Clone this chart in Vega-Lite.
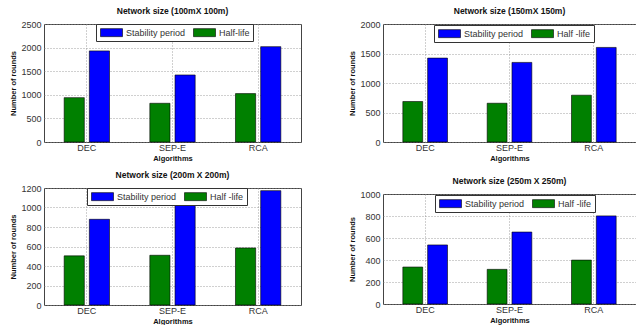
{
  "$schema": "https://vega.github.io/schema/vega-lite/v6.json",
  "padding": {"left": 9, "top": 6, "right": 0, "bottom": 0},
  "background": "white",
  "config": {
    "font": "Liberation Sans",
    "view": {"stroke": "#444", "strokeWidth": 1},
    "title": {"font": "Liberation Sans", "fontSize": 8.5, "fontWeight": "bold", "color": "#111", "offset": 5},
    "axis": {
      "labelFont": "Liberation Sans", "labelFontSize": 9, "labelColor": "#333",
      "titleFont": "Liberation Sans", "titleFontSize": 7.5, "titleFontWeight": "bold", "titleColor": "#111",
      "grid": true, "gridColor": "#888", "gridDash": [1, 2], "gridWidth": 0.8,
      "domain": false, "ticks": false, "tickSize": 0, "labelPadding": 3, "titlePadding": 3
    },
    "axisX": {"labelPadding": 1, "titlePadding": 2},
    "legend": {
      "orient": "none", "direction": "horizontal", "title": null,
      "symbolType": "M-2.2,-0.8H2.2V0.8H-2.2Z", "symbolSize": 100,
      "symbolStrokeColor": "#000", "symbolStrokeWidth": 0.5, "symbolOpacity": 1,
      "labelFont": "Liberation Sans", "labelFontSize": 9, "labelColor": "#333",
      "strokeColor": "#333", "fillColor": "#fff", "padding": 3,
      "symbolOffset": 7, "labelOffset": 9, "columnPadding": 6
    },
    "bar": {"stroke": "#000", "strokeWidth": 0.6}
  },
  "resolve": {"scale": {"x": "independent", "y": "independent", "color": "independent", "xOffset": "independent"}, "legend": {"color": "independent"}},
  "spacing": 46,
  "hconcat": [
    {
      "resolve": {"scale": {"x": "independent", "y": "independent", "color": "independent", "xOffset": "independent"}, "legend": {"color": "independent"}},
      "spacing": 8,
      "vconcat": [
        {
          "width": 257, "height": 118,
          "title": "Network size (100mX 100m)",
          "data": {"values": [
            {"algorithm": "DEC", "series": "Half-life", "rounds": 940},
            {"algorithm": "DEC", "series": "Stability period", "rounds": 1930},
            {"algorithm": "SEP-E", "series": "Half-life", "rounds": 820},
            {"algorithm": "SEP-E", "series": "Stability period", "rounds": 1420},
            {"algorithm": "RCA", "series": "Half-life", "rounds": 1025},
            {"algorithm": "RCA", "series": "Stability period", "rounds": 2020}
          ]},
          "mark": "bar",
          "encoding": {
            "x": {"field": "algorithm", "type": "nominal", "sort": ["DEC", "SEP-E", "RCA"], "scale": {"paddingInner": 0, "paddingOuter": 0}, "axis": {"title": "Algorithms", "labelAngle": 0, "bandPosition": 0.5}},
            "xOffset": {"field": "series", "sort": ["Half-life", "Stability period"], "scale": {"paddingInner": 0.2, "paddingOuter": 0.8}},
            "y": {"field": "rounds", "type": "quantitative", "scale": {"domain": [0, 2500], "nice": false}, "axis": {"values": [0, 500, 1000, 1500, 2000, 2500], "format": "d", "title": "Number of rounds"}},
            "color": {"field": "series", "type": "nominal", "scale": {"domain": ["Stability period", "Half-life"], "range": ["#0000ff", "#008000"]}, "legend": {"legendX": 52, "legendY": 0}}
          }
        },
        {
          "width": 257, "height": 117,
          "title": "Network size (200m X 200m)",
          "data": {"values": [
            {"algorithm": "DEC", "series": "Half-life", "rounds": 504},
            {"algorithm": "DEC", "series": "Stability period", "rounds": 879},
            {"algorithm": "SEP-E", "series": "Half-life", "rounds": 510},
            {"algorithm": "SEP-E", "series": "Stability period", "rounds": 1027},
            {"algorithm": "RCA", "series": "Half-life", "rounds": 585},
            {"algorithm": "RCA", "series": "Stability period", "rounds": 1173}
          ]},
          "mark": "bar",
          "encoding": {
            "x": {"field": "algorithm", "type": "nominal", "sort": ["DEC", "SEP-E", "RCA"], "scale": {"paddingInner": 0, "paddingOuter": 0}, "axis": {"title": "Algorithms", "labelAngle": 0, "bandPosition": 0.5}},
            "xOffset": {"field": "series", "sort": ["Half-life", "Stability period"], "scale": {"paddingInner": 0.2, "paddingOuter": 0.8}},
            "y": {"field": "rounds", "type": "quantitative", "scale": {"domain": [0, 1200], "nice": false}, "axis": {"values": [0, 200, 400, 600, 800, 1000, 1200], "format": "d", "title": "Number of rounds"}},
            "color": {"field": "series", "type": "nominal", "scale": {"domain": ["Stability period", "Half-life"], "range": ["#0000ff", "#008000"]}, "legend": {"legendX": 43, "legendY": 0, "labelExpr": "datum.label == 'Half-life' ? 'Half -life' : datum.label"}}
          }
        }
      ]
    },
    {
      "resolve": {"scale": {"x": "independent", "y": "independent", "color": "independent", "xOffset": "independent"}, "legend": {"color": "independent"}},
      "spacing": 14,
      "vconcat": [
        {
          "width": 253, "height": 118,
          "title": "Network size (150mX 150m)",
          "data": {"values": [
            {"algorithm": "DEC", "series": "Half-life", "rounds": 686},
            {"algorithm": "DEC", "series": "Stability period", "rounds": 1422},
            {"algorithm": "SEP-E", "series": "Half-life", "rounds": 657},
            {"algorithm": "SEP-E", "series": "Stability period", "rounds": 1349},
            {"algorithm": "RCA", "series": "Half-life", "rounds": 793},
            {"algorithm": "RCA", "series": "Stability period", "rounds": 1603}
          ]},
          "mark": "bar",
          "encoding": {
            "x": {"field": "algorithm", "type": "nominal", "sort": ["DEC", "SEP-E", "RCA"], "scale": {"paddingInner": 0, "paddingOuter": 0}, "axis": {"title": "Algorithms", "labelAngle": 0, "bandPosition": 0.5}},
            "xOffset": {"field": "series", "sort": ["Half-life", "Stability period"], "scale": {"paddingInner": 0.2, "paddingOuter": 0.8}},
            "y": {"field": "rounds", "type": "quantitative", "scale": {"domain": [0, 2000], "nice": false}, "axis": {"values": [0, 500, 1000, 1500, 2000], "format": "d", "title": "Number of rounds"}},
            "color": {"field": "series", "type": "nominal", "scale": {"domain": ["Stability period", "Half-life"], "range": ["#0000ff", "#008000"]}, "legend": {"legendX": 51, "legendY": 1, "labelExpr": "datum.label == 'Half-life' ? 'Half -life' : datum.label"}}
          }
        },
        {
          "width": 253, "height": 110,
          "title": "Network size (250m X 250m)",
          "data": {"values": [
            {"algorithm": "DEC", "series": "Half-life", "rounds": 336},
            {"algorithm": "DEC", "series": "Stability period", "rounds": 537},
            {"algorithm": "SEP-E", "series": "Half-life", "rounds": 315},
            {"algorithm": "SEP-E", "series": "Stability period", "rounds": 654},
            {"algorithm": "RCA", "series": "Half-life", "rounds": 399},
            {"algorithm": "RCA", "series": "Stability period", "rounds": 801}
          ]},
          "mark": "bar",
          "encoding": {
            "x": {"field": "algorithm", "type": "nominal", "sort": ["DEC", "SEP-E", "RCA"], "scale": {"paddingInner": 0, "paddingOuter": 0}, "axis": {"title": "Algorithms", "labelAngle": 0, "bandPosition": 0.5}},
            "xOffset": {"field": "series", "sort": ["Half-life", "Stability period"], "scale": {"paddingInner": 0.2, "paddingOuter": 0.8}},
            "y": {"field": "rounds", "type": "quantitative", "scale": {"domain": [0, 1000], "nice": false}, "axis": {"values": [0, 200, 400, 600, 800, 1000], "format": "d", "title": "Number of rounds"}},
            "color": {"field": "series", "type": "nominal", "scale": {"domain": ["Stability period", "Half-life"], "range": ["#0000ff", "#008000"]}, "legend": {"legendX": 52, "legendY": 1, "labelExpr": "datum.label == 'Half-life' ? 'Half -life' : datum.label"}}
          }
        }
      ]
    }
  ]
}
